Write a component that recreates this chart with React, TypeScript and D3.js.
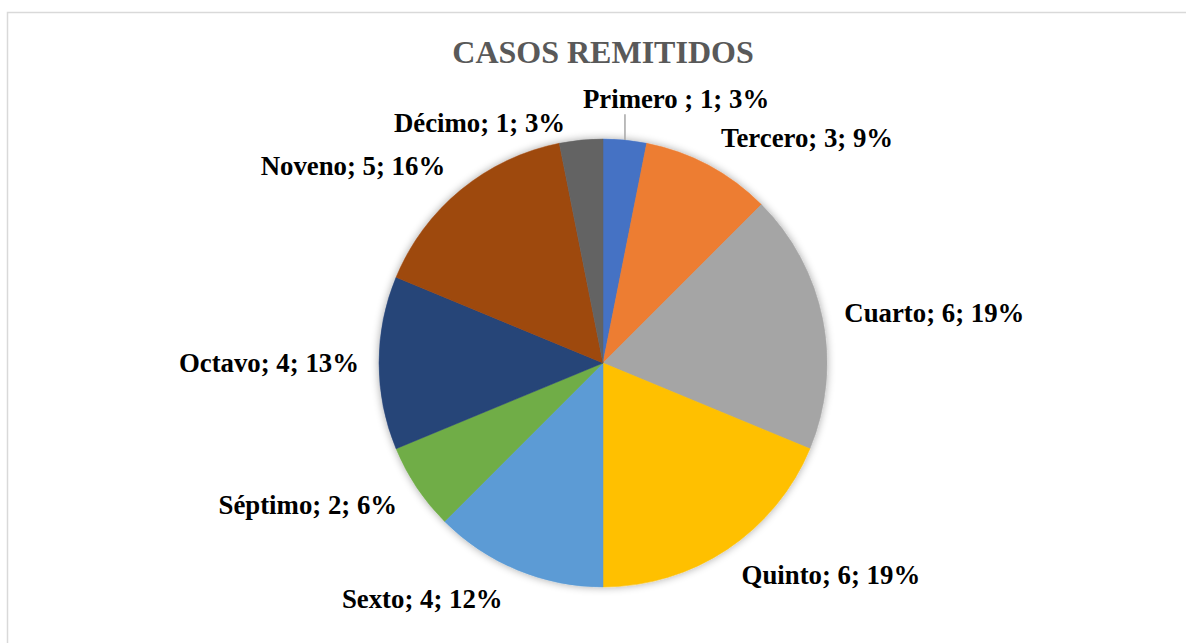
import React, { useEffect, useRef } from "react";
import * as d3 from "d3";

const title = "CASOS REMITIDOS";
const categories = ["Primero ", "Tercero", "Cuarto", "Quinto", "Sexto", "Séptimo", "Octavo", "Noveno", "Décimo"];
const values = [1, 3, 6, 6, 4, 2, 4, 5, 1];
const percentLabels = ["3%", "9%", "19%", "19%", "12%", "6%", "13%", "16%", "3%"];
const colors = ["#4472C4", "#ED7D31", "#A5A5A5", "#FFC000", "#5B9BD5", "#70AD47", "#264478", "#9E480E", "#636363"];

// layout adjustments (Excel moved some labels off their default spots)
const labelNudge: [number, number][] = [[-44, -10], [3, 0], [2, 0], [3, 0], [-7, 0], [-3, 0], [0, 0], [-3, 0], [-14, 14]];

const W = 1186;
const H = 643;
const CX = 603;
const CY = 363;
const R = 224;
const GAP = 20;
const FONT = "'Liberation Serif', 'Times New Roman', serif";
const LABEL_SIZE = 26.8;

export default function App() {
  const ref = useRef<SVGSVGElement>(null);

  useEffect(() => {
    const svg = d3.select(ref.current);
    svg.selectAll("*").remove();

    const defs = svg.append("defs");
    const f = defs.append("filter").attr("id", "sh").attr("x", "-20%").attr("y", "-20%").attr("width", "140%").attr("height", "140%");
    f.append("feGaussianBlur").attr("in", "SourceAlpha").attr("stdDeviation", 4).attr("result", "b");
    f.append("feOffset").attr("in", "b").attr("dx", 0).attr("dy", 0).attr("result", "o");
    f.append("feComponentTransfer").attr("in", "o").attr("result", "t")
      .append("feFuncA").attr("type", "linear").attr("slope", 0.35);
    const m = f.append("feMerge");
    m.append("feMergeNode").attr("in", "t");
    m.append("feMergeNode").attr("in", "SourceGraphic");

    svg.append("rect").attr("width", W).attr("height", H).attr("fill", "#fff");
    svg.append("rect")
      .attr("x", 7.5).attr("y", 12.5).attr("width", W + 10).attr("height", H + 10)
      .attr("fill", "none").attr("stroke", "#d9d9d9").attr("stroke-width", 1.5);

    svg.append("text")
      .attr("x", CX).attr("y", 62.5)
      .attr("text-anchor", "middle")
      .attr("font-family", FONT).attr("font-weight", "bold").attr("font-size", 32)
      .attr("fill", "#595959")
      .text(title);

    const data = categories.map((c, i) => ({ c, v: values[i], p: percentLabels[i], col: colors[i], i }));
    const pie = d3.pie<any>().value((d) => d.v).sort(null);
    const arcs = pie(data);
    const arc = d3.arc<any>().innerRadius(0).outerRadius(R);

    const g = svg.append("g").attr("transform", `translate(${CX},${CY})`);
    const pg = g.append("g").attr("filter", "url(#sh)");
    pg.selectAll("path").data(arcs).enter().append("path")
      .attr("d", arc as any)
      .attr("fill", (d: any) => d.data.col)
      .attr("stroke", (d: any) => d.data.col)
      .attr("stroke-width", 0.5);

    const capH = 18;
    arcs.forEach((a: any) => {
      const mid = (a.startAngle + a.endAngle) / 2;
      const s = Math.sin(mid);
      const c = Math.cos(mid);
      const px = (R + GAP) * s;
      const py = -(R + GAP) * c;
      const right = s >= 0;
      const [dx, dy] = labelNudge[a.data.i];
      const midY = py - c * 11 + dy;
      const x = px + dx;
      const label = `${a.data.c}; ${a.data.v}; ${a.data.p}`;
      if (a.data.i === 0) {
        const ax = R * s;
        const ay = -R * c;
        g.append("line")
          .attr("x1", ax).attr("y1", ay)
          .attr("x2", ax).attr("y2", midY + capH / 2 + 6)
          .attr("stroke", "#a6a6a6").attr("stroke-width", 1.5);
      }
      g.append("text")
        .attr("x", x)
        .attr("y", midY + capH / 2)
        .attr("text-anchor", right ? "start" : "end")
        .attr("font-family", FONT).attr("font-weight", "bold").attr("font-size", LABEL_SIZE)
        .attr("fill", "#000")
        .text(label);
    });
  }, []);

  return (
    <svg
      ref={ref}
      width={W}
      height={H}
      style={{ position: "absolute", left: 0, top: 0, display: "block" }}
    />
  );
}
